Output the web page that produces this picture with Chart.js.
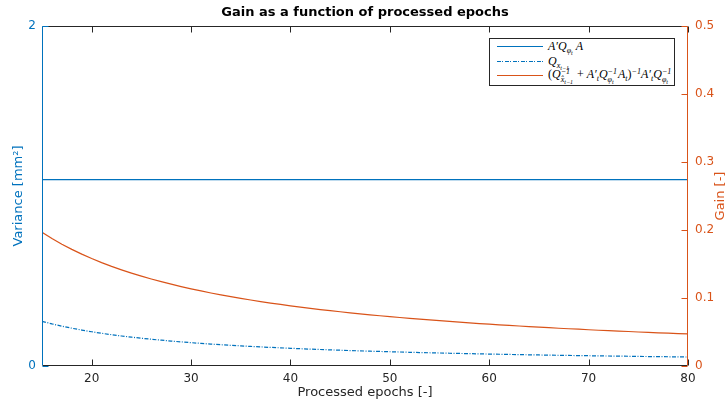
<!DOCTYPE html>
<html>
<head>
<meta charset="utf-8">
<script src="https://cdn.jsdelivr.net/npm/chart.js@4/dist/chart.umd.min.js"></script>
<style>
    body { margin: 0; background: #fff; }
    #wrap { position: relative; width: 728px; height: 403px; }
    #legend {
        position: absolute; left: 489px; top: 38px; width: 184px; height: 46px;
        border: 1px solid #262626; background: #fff;
        font-family: "Liberation Serif", serif; font-style: italic; font-size: 12px; color: #000;
    }
    .row { position: absolute; left: 7px; height: 15px; display: flex; align-items: center; white-space: nowrap; }
    .sample { width: 46px; height: 1px; margin-right: 5px; flex: none; }
    .sb { font-size: 8px; position: relative; top: 3px; }
    .sbb { font-size: 6px; position: relative; top: 2px; }
    .sp { font-size: 8px; position: relative; top: -4px; }
    .ss { display: inline-flex; flex-direction: column; font-size: 8px; line-height: 8px; vertical-align: middle; margin-right: 1px; }
    .up { font-style: normal; }
</style>
</head>
<body>
<div id="wrap">
    <canvas id="chart" width="728" height="403"></canvas>
    <div id="legend">
        <div class="row" style="top:0px">
            <div class="sample" style="background-color:#0072BD"></div>
            <span>A′Q<span class="sb">φ<span class="sbb">t</span></span>&nbsp;A</span>
        </div>
        <div class="row" style="top:15px">
            <div class="sample" style="background:repeating-linear-gradient(to right, #0072BD 0 4px, transparent 4px 5.5px, #0072BD 5.5px 6.5px, transparent 6.5px 8px)"></div>
            <span>Q<span class="sb">x<span class="sbb">t−1</span></span></span>
        </div>
        <div class="row" style="top:29px">
            <div class="sample" style="background-color:#D95319"></div>
            <span><span class="up">(</span>Q<span class="ss"><span>−1</span><span>x̂<span class="sbb">t−1</span></span></span><span class="up">&nbsp;+&nbsp;</span>A′<span class="sb">t</span>Q<span class="ss"><span>−1</span><span>φ<span class="sbb">t</span></span></span>A<span class="sb">t</span><span class="up">)</span><span class="sp">−1</span>A′<span class="sb">t</span>Q<span class="ss"><span>−1</span><span>φ<span class="sbb">t</span></span></span></span>
        </div>
    </div>
</div>
<script>
// processed epochs on the x axis
const epochs = [15, 16, 17, 18, 19, 20, 21, 22, 23, 24, 25, 26, 27, 28, 29, 30, 31, 32, 33, 34,
    35, 36, 37, 38, 39, 40, 41, 42, 43, 44, 45, 46, 47, 48, 49, 50, 51, 52, 53, 54,
    55, 56, 57, 58, 59, 60, 61, 62, 63, 64, 65, 66, 67, 68, 69, 70, 71, 72, 73, 74,
    75, 76, 77, 78, 79, 80];

// A'Q_phi A, constant over all epochs
const measVarEpochs = [15, 80];
const measVar = [1.096, 1.096];

// Q_x(t-1), state variance
const stateVar = [0.2628, 0.2477, 0.2342, 0.2222, 0.2113, 0.2014, 0.1924, 0.1842, 0.1766, 0.1697,
    0.1633, 0.1573, 0.1518, 0.1466, 0.1418, 0.1373, 0.1330, 0.1290, 0.1253, 0.1218,
    0.1184, 0.1152, 0.1122, 0.1094, 0.1067, 0.1041, 0.1017, 0.0993, 0.0971, 0.0949,
    0.0929, 0.0909, 0.0890, 0.0872, 0.0855, 0.0839, 0.0823, 0.0807, 0.0792, 0.0778,
    0.0764, 0.0751, 0.0738, 0.0726, 0.0714, 0.0702, 0.0691, 0.0680, 0.0669, 0.0659,
    0.0649, 0.0639, 0.0630, 0.0621, 0.0612, 0.0604, 0.0595, 0.0587, 0.0579, 0.0572,
    0.0564, 0.0557, 0.0550, 0.0543, 0.0536, 0.0529];

// filter gain
const gain = [0.1966, 0.1874, 0.1791, 0.1715, 0.1645, 0.1580, 0.1520, 0.1465, 0.1414, 0.1366,
    0.1321, 0.1279, 0.1240, 0.1203, 0.1168, 0.1135, 0.1104, 0.1074, 0.1046, 0.1020,
    0.0995, 0.0971, 0.0948, 0.0926, 0.0905, 0.0885, 0.0866, 0.0848, 0.0830, 0.0814,
    0.0798, 0.0782, 0.0767, 0.0753, 0.0739, 0.0726, 0.0713, 0.0700, 0.0688, 0.0677,
    0.0666, 0.0655, 0.0644, 0.0634, 0.0624, 0.0615, 0.0606, 0.0597, 0.0588, 0.0579,
    0.0571, 0.0563, 0.0555, 0.0548, 0.0541, 0.0533, 0.0526, 0.0520, 0.0513, 0.0507,
    0.0500, 0.0494, 0.0488, 0.0482, 0.0477, 0.0471];

const xTicks = [20, 30, 40, 50, 60, 70, 80];
const varTicks = [0, 2];
const gainTicks = [0, 0.1, 0.2, 0.3, 0.4, 0.5];

const BLUE = '#0072BD';
const ORANGE = '#D95319';
const AXIS = '#262626';
const FONT = '"DejaVu Sans", sans-serif';

const pts = (xs, ys) => xs.map((x, i) => ({ x: x, y: ys[i] }));
const fixTicks = list => scale => { scale.ticks = list.map(v => ({ value: v })); };

// frame, inward tick marks, title and axis titles
const framePlugin = {
    id: 'frame',
    afterDraw(chart) {
        const ctx = chart.ctx;
        const a = chart.chartArea;
        const x = chart.scales.x, yl = chart.scales.yVar, yr = chart.scales.yGain;
        const L = Math.round(a.left) + 0.5, R = Math.round(a.right) - 0.5;
        const T = Math.round(a.top) + 0.5, B = Math.round(a.bottom) - 0.5;
        const len = 6;
        ctx.save();
        ctx.lineWidth = 1;

        ctx.strokeStyle = AXIS;
        ctx.beginPath();
        ctx.moveTo(L, T); ctx.lineTo(R, T);
        ctx.moveTo(L, B); ctx.lineTo(R, B);
        xTicks.forEach(v => {
            const px = Math.round(x.getPixelForValue(v)) + 0.5;
            ctx.moveTo(px, B); ctx.lineTo(px, B - len);
            ctx.moveTo(px, T); ctx.lineTo(px, T + len);
        });
        ctx.stroke();

        ctx.strokeStyle = BLUE;
        ctx.beginPath();
        ctx.moveTo(L, T); ctx.lineTo(L, B);
        varTicks.forEach(v => {
            const py = Math.round(yl.getPixelForValue(v)) + 0.5;
            ctx.moveTo(L, py); ctx.lineTo(L + len, py);
        });
        ctx.stroke();

        ctx.strokeStyle = ORANGE;
        ctx.beginPath();
        ctx.moveTo(R, T); ctx.lineTo(R, B);
        gainTicks.forEach(v => {
            const py = Math.round(yr.getPixelForValue(v)) + 0.5;
            ctx.moveTo(R, py); ctx.lineTo(R - len, py);
        });
        ctx.stroke();

        const cx = (a.left + a.right) / 2, cy = (a.top + a.bottom) / 2;
        ctx.textAlign = 'center';
        ctx.textBaseline = 'middle';

        ctx.fillStyle = '#000';
        ctx.font = 'bold 13px ' + FONT;
        ctx.fillText('Gain as a function of processed epochs', cx, 13);

        ctx.fillStyle = AXIS;
        ctx.font = '13px ' + FONT;
        ctx.fillText('Processed epochs [-]', cx, 393);

        ctx.save();
        ctx.translate(19, cy);
        ctx.rotate(-Math.PI / 2);
        ctx.fillStyle = BLUE;
        ctx.fillText('Variance [mm²]', 0, 0);
        ctx.restore();

        ctx.save();
        ctx.translate(721, cy);
        ctx.rotate(-Math.PI / 2);
        ctx.fillStyle = ORANGE;
        ctx.fillText('Gain [-]', 0, 0);
        ctx.restore();

        ctx.restore();
    }
};

new Chart(document.getElementById('chart'), {
    type: 'line',
    data: {
        datasets: [
            {
                label: "A'Q A",
                data: pts(measVarEpochs, measVar),
                yAxisID: 'yVar',
                borderColor: BLUE,
                borderWidth: 1.2
            },
            {
                label: 'Q x',
                data: pts(epochs, stateVar),
                yAxisID: 'yVar',
                borderColor: BLUE,
                borderWidth: 1.2,
                borderDash: [4, 1.5, 1, 1.5]
            },
            {
                label: 'gain',
                data: pts(epochs, gain),
                yAxisID: 'yGain',
                borderColor: ORANGE,
                borderWidth: 1.2
            }
        ]
    },
    options: {
        responsive: false,
        animation: false,
        events: [],
        layout: { padding: { top: 26, left: 0, right: 0, bottom: 0 } },
        elements: { point: { radius: 0 }, line: { tension: 0 } },
        plugins: { legend: { display: false }, title: { display: false }, tooltip: { enabled: false } },
        scales: {
            x: {
                type: 'linear',
                min: 15,
                max: 80,
                afterBuildTicks: fixTicks(xTicks),
                afterFit: s => { s.height = 37; },
                grid: { display: false, drawTicks: false },
                border: { display: false },
                ticks: { color: AXIS, padding: 6, font: { family: FONT, size: 12 }, maxRotation: 0 }
            },
            yVar: {
                type: 'linear',
                position: 'left',
                min: 0,
                max: 2,
                afterBuildTicks: fixTicks(varTicks),
                afterFit: s => { s.width = 42; },
                grid: { display: false, drawTicks: false },
                border: { display: false },
                ticks: { color: BLUE, padding: 6, font: { family: FONT, size: 12 } }
            },
            yGain: {
                type: 'linear',
                position: 'right',
                min: 0,
                max: 0.5,
                afterBuildTicks: fixTicks(gainTicks),
                afterFit: s => { s.width = 40; },
                grid: { display: false, drawTicks: false },
                border: { display: false },
                ticks: { color: ORANGE, padding: 7, font: { family: FONT, size: 12 } }
            }
        }
    },
    plugins: [framePlugin]
});
</script>
</body>
</html>
